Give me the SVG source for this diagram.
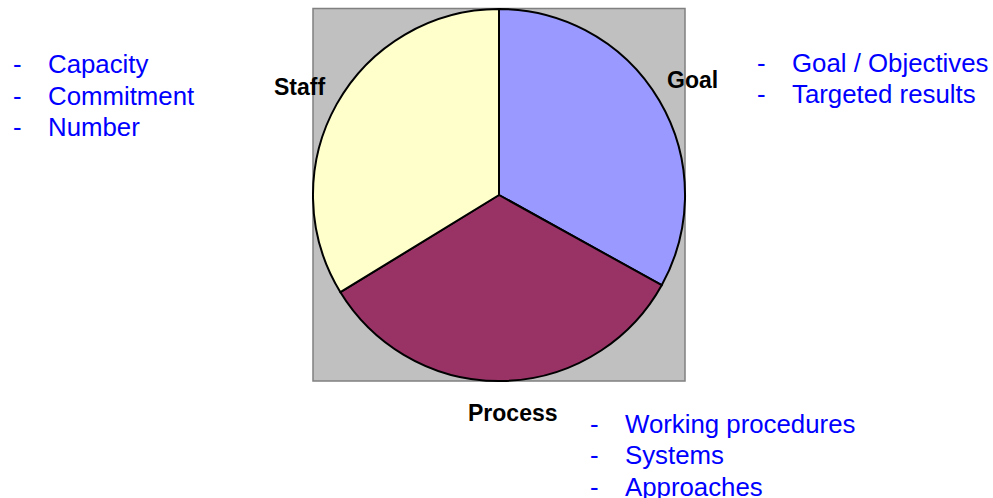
<svg xmlns="http://www.w3.org/2000/svg" width="993" height="498" viewBox="0 0 993 498">
<style>
.slice{stroke:#000;stroke-width:2;stroke-linejoin:round}
.lbl{font-family:"Liberation Sans",Arial,sans-serif;font-weight:bold;font-size:23px;fill:#000}
.item{font-family:"Liberation Sans",Arial,sans-serif;font-size:25.8px;fill:#0000FF}
</style>
<rect width="993" height="498" fill="#fff"/>
<rect id="plot-area" x="313" y="8.5" width="372" height="372.5" fill="#C0C0C0" stroke="#808080" stroke-width="1.5"/>
<g id="goal">
<path class="slice" d="M499,195 L499,9 A186,186 0 0 1 661.7,285.2 Z" fill="#9999FF"/>
<text class="lbl" x="667" y="88">Goal</text>
<text class="item" x="757" y="72">-</text>
<text class="item" x="792" y="72">Goal / Objectives</text>
<text class="item" x="757" y="103">-</text>
<text class="item" x="792" y="103">Targeted results</text>
</g>
<g id="process">
<path class="slice" d="M499,195 L661.7,285.2 A186,186 0 0 1 340.4,292.2 Z" fill="#993366"/>
<text class="lbl" x="468" y="420.5">Process</text>
<text class="item" x="590" y="432.5">-</text>
<text class="item" x="625" y="432.5">Working procedures</text>
<text class="item" x="590" y="464">-</text>
<text class="item" x="625" y="464">Systems</text>
<text class="item" x="590" y="496">-</text>
<text class="item" x="625" y="496">Approaches</text>
</g>
<g id="staff">
<path class="slice" d="M499,195 L340.4,292.2 A186,186 0 0 1 499,9 Z" fill="#FFFFCC"/>
<text class="lbl" x="274" y="95">Staff</text>
<text class="item" x="13" y="72.7">-</text>
<text class="item" x="48" y="72.7">Capacity</text>
<text class="item" x="13" y="104.5">-</text>
<text class="item" x="48" y="104.5">Commitment</text>
<text class="item" x="13" y="136.3">-</text>
<text class="item" x="48" y="136.3">Number</text>
</g>
</svg>
